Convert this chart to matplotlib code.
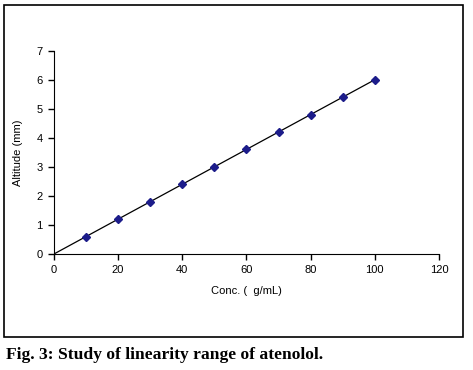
import matplotlib.pyplot as plt
from matplotlib.patches import Rectangle

conc = [10, 20, 30, 40, 50, 60, 70, 80, 90, 100]
altitude = [0.6, 1.2, 1.8, 2.4, 3.0, 3.6, 4.2, 4.8, 5.4, 6.0]
fit_x = [0, 100]
fit_y = [0, 6.0]

plt.rcParams['font.family'] = ['Liberation Sans', 'DejaVu Sans']

fig = plt.figure(figsize=(4.73, 3.70), dpi=100)

# outer frame round the chart
fig.patches.append(Rectangle((0.0085, 0.089), 0.970, 0.897, transform=fig.transFigure,
                             fill=False, edgecolor='black', linewidth=1.2))

ax = fig.add_axes([0.114, 0.3135, 0.814, 0.5495])
ax.plot(fit_x, fit_y, color='black', linewidth=0.9)
ax.plot(conc, altitude, linestyle='none', marker='D', markersize=4,
        color='#1c1c8a')

ax.set_xlim(0, 120)
ax.set_ylim(0, 7)
ax.set_xticks(range(0, 121, 20))
ax.set_yticks(range(0, 8))
ax.spines['top'].set_visible(False)
ax.spines['right'].set_visible(False)
ax.tick_params(labelsize=8, length=4, width=1, pad=4)
ax.set_xlabel('Conc. (  g/mL)', fontsize=8, labelpad=8)
ax.set_ylabel('Altitude (mm)', fontsize=8, labelpad=10)

fig.text(0.012, 0.04, 'Fig. 3: Study of linearity range of atenolol.',
         fontsize=12.6, fontweight='bold', family='Liberation Serif', va='center')

fig.savefig('out.png', dpi=100)
